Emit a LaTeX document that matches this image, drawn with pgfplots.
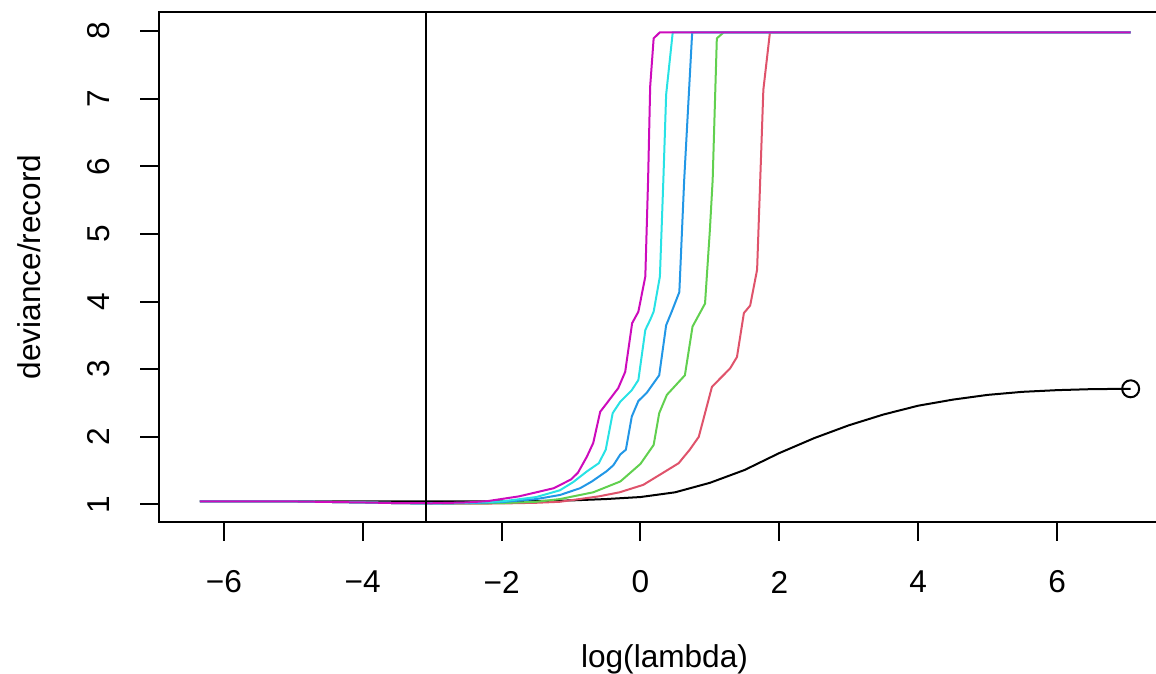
\documentclass[border=0pt]{standalone}
\usepackage{fontspec}
\setmainfont{Liberation Sans}
\usepackage{pgfplots}
\pgfplotsset{compat=1.18}
\definecolor{Rred}{HTML}{DF536B}
\definecolor{Rgreen}{HTML}{61D04F}
\definecolor{Rblue}{HTML}{2297E6}
\definecolor{Rcyan}{HTML}{28E2E5}
\definecolor{Rmagenta}{HTML}{CD0BBC}
\newcommand{\rfont}{\fontsize{15.8}{19}\selectfont}

\begin{document}
\begin{tikzpicture}
\begin{axis}[
  at={(79.65pt,76pt)}, anchor=south west,
  scale only axis, width=505.1pt, height=255pt,
  xmin=-6.93, xmax=7.62, ymin=0.741, ymax=8.28,
  axis line style={line width=1pt},
  tick style={black, line width=1pt},
  tick align=outside, tick pos=left,
  major tick length=9.5pt,
  xtick={-6,-4,-2,0,2,4,6},
  xticklabels={−6,−4,−2,0,2,4,6},
  ytick={1,2,3,4,5,6,7,8},
  yticklabels={1,2,3,4,5,6,7,8},
  ticklabel style={font=\rfont},
  x tick label style={anchor=center, yshift=-20.5pt},
  y tick label style={anchor=center, xshift=-20.9pt, rotate=90},
  every axis plot/.append style={line width=1pt},
]
\addplot[black] coordinates {
(-6.345,1.048)(-5,1.048)(-4,1.047)(-3,1.046)(-2,1.047)(-1.5,1.05)(-1,1.06)(-0.5,1.08)(0,1.11)(0.5,1.18)(1,1.32)(1.5,1.51)(2,1.76)(2.5,1.98)(3,2.17)(3.5,2.33)(4,2.46)(4.5,2.55)(5,2.62)(5.5,2.665)(6,2.69)(6.5,2.705)(7.06,2.71)
};
\addplot[Rred] coordinates {
(-6.345,1.047)(-5,1.045)(-4,1.03)(-3.5,1.02)(-3,1.015)(-2.5,1.013)(-2,1.015)(-1.5,1.025)(-1.16,1.04)(-0.6,1.12)(-0.3,1.18)(0.04,1.29)(0.28,1.44)(0.55,1.61)(0.71,1.81)(0.84,2.0)(1.03,2.74)(1.29,3.01)(1.39,3.18)(1.49,3.83)(1.58,3.94)(1.68,4.47)(1.77,7.13)(1.865,7.98)(7.06,7.98)
};
\addplot[Rgreen] coordinates {
(-6.345,1.047)(-5,1.045)(-4,1.03)(-3.5,1.02)(-3,1.015)(-2.5,1.015)(-2,1.02)(-1.5,1.04)(-1.16,1.08)(-0.68,1.18)(-0.29,1.34)(0,1.6)(0.19,1.88)(0.27,2.35)(0.38,2.62)(0.64,2.91)(0.75,3.63)(0.93,3.97)(1.0,5.06)(1.04,5.8)(1.10,7.89)(1.2,7.98)(7.06,7.98)
};
\addplot[Rblue] coordinates {
(-6.345,1.047)(-5,1.045)(-4,1.03)(-3.5,1.02)(-3,1.015)(-2.5,1.02)(-2,1.035)(-1.5,1.08)(-1.16,1.14)(-0.87,1.24)(-0.70,1.34)(-0.49,1.49)(-0.39,1.58)(-0.29,1.74)(-0.21,1.81)(-0.125,2.3)(-0.03,2.53)(0.09,2.65)(0.27,2.91)(0.37,3.65)(0.45,3.85)(0.56,4.14)(0.63,5.8)(0.745,7.98)(7.06,7.98)
};
\addplot[Rcyan] coordinates {
(-6.345,1.047)(-5,1.045)(-4,1.03)(-3.5,1.02)(-3,1.015)(-2.5,1.025)(-2,1.045)(-1.5,1.11)(-1.16,1.21)(-0.97,1.33)(-0.77,1.49)(-0.6,1.61)(-0.5,1.81)(-0.4,2.35)(-0.29,2.52)(-0.125,2.69)(-0.03,2.84)(0.07,3.58)(0.14,3.73)(0.19,3.85)(0.28,4.37)(0.33,5.8)(0.37,7.06)(0.465,7.98)(7.06,7.98)
};
\addplot[Rmagenta] coordinates {
(-6.345,1.047)(-5,1.045)(-4,1.03)(-3.5,1.02)(-3,1.018)(-2.5,1.03)(-2.2,1.05)(-1.75,1.12)(-1.25,1.24)(-1.0,1.37)(-0.9,1.47)(-0.77,1.71)(-0.68,1.91)(-0.58,2.37)(-0.49,2.49)(-0.32,2.72)(-0.22,2.96)(-0.12,3.68)(-0.03,3.85)(0.07,4.37)(0.11,5.8)(0.14,7.18)(0.19,7.89)(0.28,7.98)(7.06,7.98)
};
% selected lambda
\addplot[black] coordinates {(-3.09,0.741)(-3.09,8.28)};
% end point of the black path
\addplot[black, only marks, mark=o, mark size=4.25pt, mark options={line width=1pt}] coordinates {(7.06,2.71)};
\end{axis}
\node[anchor=base, font=\rfont] at (332.25pt,3pt) {log(lambda)};
\node[anchor=base, rotate=90, font=\rfont] at (20pt,203.5pt) {deviance/record};
\pgfresetboundingbox
\useasboundingbox (0,0) rectangle (578pt,337pt);
\end{tikzpicture}
\end{document}
